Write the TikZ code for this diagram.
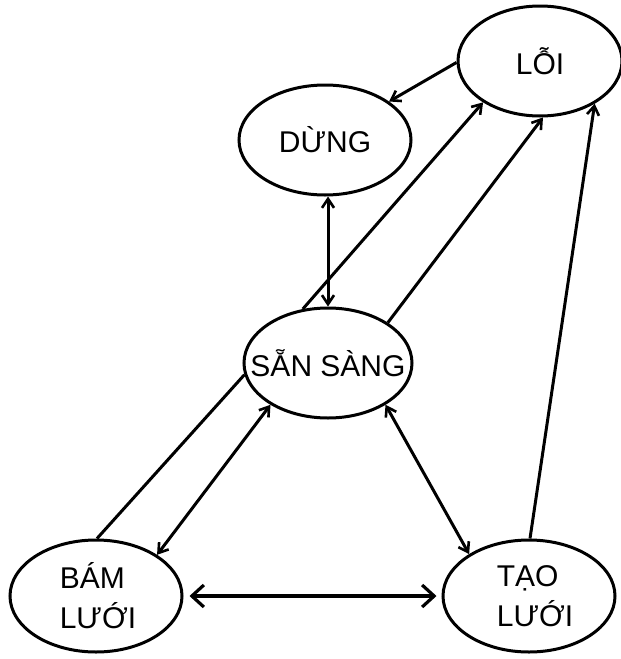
\documentclass[tikz,border=0pt]{standalone}
\usepackage{fontspec}
\setmainfont{Liberation Sans}
\usetikzlibrary{shapes.geometric,arrows.meta}
\begin{document}
\begin{tikzpicture}[x=1pt,y=-1pt,
  state/.style={ellipse,draw,line width=3pt,inner sep=0pt},
  caption/.style={font=\fontsize{30}{40}\selectfont,align=left,inner sep=0pt},
  link/.style={line width=3pt},
  tip/.style={-{Straight Barb[length=9pt,width=12pt,line width=2.6pt]}},
  both/.style={{Straight Barb[length=9pt,width=12pt,line width=2.6pt]}-{Straight Barb[length=9pt,width=12pt,line width=2.6pt]}},
  wide/.style={line width=3.8pt,{Straight Barb[length=12pt,width=22pt,line width=3.2pt]}-{Straight Barb[length=12pt,width=22pt,line width=3.2pt]}}]
\useasboundingbox (0,0) rectangle (621,659);

% states: fixed-size ellipses with their captions laid on top
\node[state,minimum width=164pt,minimum height=110pt,
  label={[caption]center:LỖI}] (loi) at (540,61) {};
\node[state,minimum width=172pt,minimum height=110pt,
  label={[caption]center:DỪNG}] (dung) at (325,140) {};
\node[state,minimum width=168pt,minimum height=110pt,
  label={[caption]center:SẴN SÀNG}] (san) at (328,363) {};
\node[state,minimum width=172pt,minimum height=112pt,
  label={[caption,xshift=2pt]center:BÁM\\LƯỚI}] (bam) at (96,596) {};
\node[state,minimum width=172pt,minimum height=112pt,
  label={[caption,xshift=6pt]center:TẠO\\LƯỚI}] (tao) at (529,596) {};

% transitions
\draw[link,tip] (loi.181) -- (dung.31);
\draw[link,both] (san.north) -- (san.north |- dung.south);
\draw[link,tip] (san.115) -- (loi.216);
\draw[link,tip] (san.34) -- (loi.273);
\draw[link,tip] (tao.89) -- (loi.322);
\draw[link] (bam.89) -- (san.188);
\draw[link,both] (san.216) -- (bam.34);
\draw[link,both] (san.324) -- (tao.145);
\draw[wide,shorten <=6pt,shorten >=5pt] (bam.east) -- (tao.west);
\end{tikzpicture}
\end{document}
